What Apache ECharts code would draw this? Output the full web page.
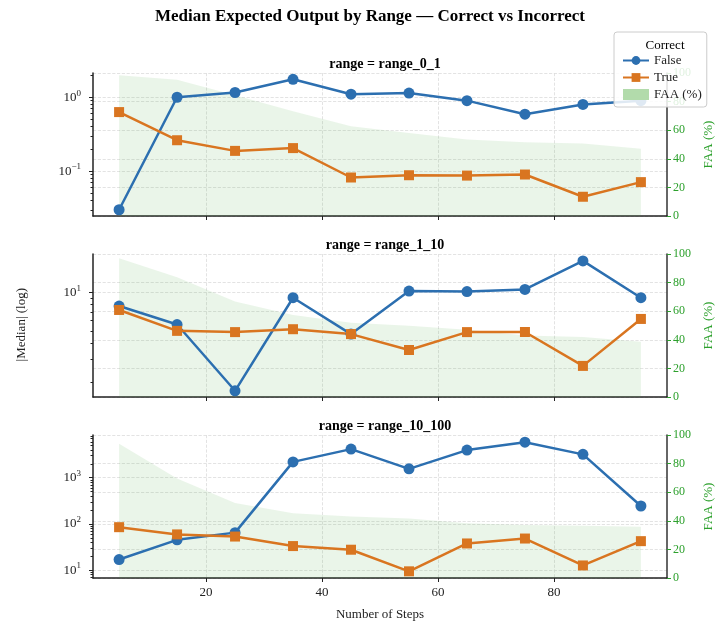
<!DOCTYPE html>
<html lang="en">
<head>
    <meta charset="UTF-8">
    <title>Median Expected Output by Range</title>
    <script src="https://cdn.jsdelivr.net/npm/echarts@6/dist/echarts.min.js"></script>
</head>
<body style="margin:0;background:#fff">
<div id="m1" style="width: 717px;height: 628px"></div>
<script>
    // data
    var steps = [5, 15, 25, 35, 45, 55, 65, 75, 85, 95];
    var xTicks = [20, 40, 60, 80];
    var rangeNames = ['range_0_1', 'range_1_10', 'range_10_100'];

    var falseMed0 = [0.030, 1.00, 1.16, 1.75, 1.10, 1.14, 0.90, 0.59, 0.80, 0.90];
    var trueMed0 = [0.63, 0.262, 0.188, 0.205, 0.082, 0.088, 0.087, 0.090, 0.045, 0.071];
    var faa0 = [98.4, 95.3, 84.5, 73.3, 62.8, 58.1, 53.5, 51.6, 50.7, 47.0];

    var falseMed1 = [7.8, 5.6, 1.71, 9.05, 4.72, 10.2, 10.1, 10.5, 17.5, 9.05];
    var trueMed1 = [7.27, 5.0, 4.89, 5.15, 4.72, 3.55, 4.89, 4.9, 2.67, 6.19];
    var faa1 = [97, 83.7, 66.7, 57.4, 52, 49.8, 47, 43, 41.9, 38.6];

    var falseMed2 = [16.9, 45.2, 64.7, 2200, 4160, 1556, 3960, 5870, 3200, 244];
    var trueMed2 = [84.9, 59.2, 53.2, 33.1, 27.6, 9.4, 37.7, 48.2, 12.6, 42.3];
    var faa2 = [93.8, 69.5, 52.4, 45.3, 43, 41.6, 38.3, 37, 36.5, 35.8];

    var falseMed = [falseMed0, falseMed1, falseMed2];
    var trueMed = [trueMed0, trueMed1, trueMed2];
    var faa = [faa0, faa1, faa2];

    // log axis extents and tick values per panel
    var logMin = [0.0247, 1.53, 6.74];
    var logMax = [2.13, 19.8, 8400];
    var majorTicks = [[0.1, 1], [10], [10, 100, 1000]];
    var minorTicks = [
        [0.03, 0.04, 0.05, 0.06, 0.07, 0.08, 0.09, 0.2, 0.3, 0.4, 0.5, 0.6, 0.7, 0.8, 0.9, 2],
        [2, 3, 4, 5, 6, 7, 8, 9],
        [7, 8, 9, 20, 30, 40, 50, 60, 70, 80, 90, 200, 300, 400, 500, 600, 700, 800, 900,
            2000, 3000, 4000, 5000, 6000, 7000, 8000]
    ];

    var BLUE = '#2c6fb0', ORANGE = '#d97520', GREEN = '#2ca02c';
    var FONT = 'Liberation Serif';
    var gridTops = [73, 254, 435];

    function zip(xs, ys) {
        return xs.map(function (x, i) { return [x, ys[i]]; });
    }

    function powLabel(v) {
        var e = Math.round(Math.log10(v));
        return '10{sup|' + (e < 0 ? '\u2212' + (-e) : e) + '}';
    }

    var grids = [], xAxes = [], yAxes = [], series = [], titles = [];

    titles.push({
        text: 'Median Expected Output by Range \u2014 Correct vs Incorrect',
        left: 365, top: 3, textAlign: 'center',
        textStyle: {fontFamily: FONT, fontSize: 17, fontWeight: 'bold', color: '#000'}
    });
    titles.push({
        text: 'Correct', left: 660, top: 34, textAlign: 'center',
        textStyle: {fontFamily: FONT, fontSize: 13, fontWeight: 'normal', color: '#000'}
    });

    for (var p = 0; p < 3; p++) {
        grids.push({left: 93, right: 50, top: gridTops[p], height: 143, outerBoundsMode: 'none', containLabel: false});
        titles.push({
            text: 'range = ' + rangeNames[p],
            left: 380, top: gridTops[p] - 21, textAlign: 'center',
            textStyle: {fontFamily: FONT, fontSize: 14, fontWeight: 'bold', color: '#000'}
        });
        xAxes.push({
            type: 'value', gridIndex: p, min: 0.5, max: 99.5,
            name: p === 2 ? 'Number of Steps' : '',
            nameLocation: 'middle', nameGap: 30,
            nameTextStyle: {fontFamily: FONT, fontSize: 13, color: '#222'},
            axisLine: {show: true, lineStyle: {color: '#222', width: 1.5}},
            axisTick: {show: true, customValues: xTicks, length: 4, lineStyle: {color: '#222'}},
            axisLabel: {show: p === 2, customValues: xTicks, fontFamily: FONT, fontSize: 13, color: '#222', margin: 8},
            splitLine: {show: true, lineStyle: {color: '#dcdcdc', type: 'dashed', width: 0.8}}
        });
        // left log axis (major)
        yAxes.push({
            type: 'log', gridIndex: p, position: 'left', min: logMin[p], max: logMax[p],
            axisLine: {show: true, lineStyle: {color: '#222', width: 1.5}},
            axisTick: {show: true, customValues: majorTicks[p], length: 4, lineStyle: {color: '#222'}},
            axisLabel: {
                customValues: majorTicks[p], formatter: powLabel,
                fontFamily: FONT, fontSize: 13, color: '#222', margin: 12,
                rich: {sup: {fontFamily: FONT, fontSize: 9, color: '#222', padding: [0, 0, 8, 0]}}
            },
            splitLine: {show: true, lineStyle: {color: '#dcdcdc', type: 'dashed', width: 0.8}}
        });
        // right FAA axis
        yAxes.push({
            type: 'value', gridIndex: p, position: 'right', min: 0, max: 100, interval: 20,
            name: 'FAA (%)', nameLocation: 'middle', nameGap: 33, nameRotate: 90,
            nameTextStyle: {fontFamily: FONT, fontSize: 13, color: GREEN},
            axisLine: {show: true, lineStyle: {color: '#333', width: 1.5}},
            axisTick: {show: true, length: 4, lineStyle: {color: GREEN}},
            axisLabel: {fontFamily: FONT, fontSize: 12, color: GREEN, margin: 6},
            splitLine: {show: true, lineStyle: {color: '#dcdcdc', type: 'dashed', width: 0.8}}
        });
        // left log axis (minor ticks only)
        yAxes.push({
            type: 'log', gridIndex: p, position: 'left', offset: 0, min: logMin[p], max: logMax[p],
            axisLine: {show: false},
            axisTick: {show: true, customValues: minorTicks[p], length: 2.5, lineStyle: {color: '#222'}},
            axisLabel: {show: false},
            splitLine: {show: false}
        });

        var yBase = p * 3;
        series.push({
            name: 'FAA (%)', type: 'line', xAxisIndex: p, yAxisIndex: yBase + 1,
            data: zip(steps, faa[p]), showSymbol: false, symbol: 'none', z: 1,
            lineStyle: {width: 0}, itemStyle: {color: '#b2dbab'},
            areaStyle: {color: 'rgba(76,170,70,0.17)', origin: 'start'},
            silent: true
        });
        series.push({
            name: 'False', type: 'line', xAxisIndex: p, yAxisIndex: yBase,
            data: zip(steps, falseMed[p]), symbol: 'circle', symbolSize: 11, z: 3,
            lineStyle: {color: BLUE, width: 2.5}, itemStyle: {color: BLUE}
        });
        series.push({
            name: 'True', type: 'line', xAxisIndex: p, yAxisIndex: yBase,
            data: zip(steps, trueMed[p]), symbol: 'rect', symbolSize: 10, z: 3,
            lineStyle: {color: ORANGE, width: 2.5}, itemStyle: {color: ORANGE}
        });
    }

    var my1 = echarts.init(document.getElementById('m1'), null, {renderer: 'canvas'});
    var option1 = {
        backgroundColor: '#fff',
        animation: false,
        title: titles,
        legend: {
            orient: 'vertical', left: 614, top: 32,
            padding: [22, 5, 6, 8], itemGap: 4, itemWidth: 26, itemHeight: 11,
            backgroundColor: 'rgba(255,255,255,0.85)', borderColor: '#cccccc', borderWidth: 1, borderRadius: 3,
            textStyle: {fontFamily: FONT, fontSize: 13, color: '#222'},
            data: [
                {name: 'False'},
                {name: 'True'},
                {name: 'FAA (%)', icon: 'rect', itemStyle: {color: '#b2dbab'}}
            ]
        },
        graphic: [{
            type: 'text', left: 15, top: 288, rotation: Math.PI / 2,
            style: {text: '|Median| (log)', fontFamily: FONT, fontSize: 13, fill: '#222'}
        }],
        grid: grids,
        xAxis: xAxes,
        yAxis: yAxes,
        series: series
    };
    my1.setOption(option1);
</script>
</body>
</html>
